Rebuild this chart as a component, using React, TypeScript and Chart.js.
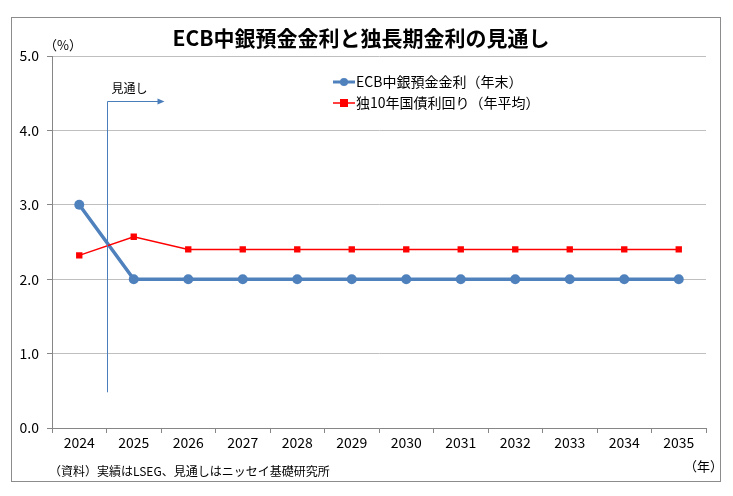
import React, { useEffect, useRef } from "react";
import { Chart, registerables } from "chart.js";

Chart.register(...registerables);

const years = ["2024", "2025", "2026", "2027", "2028", "2029", "2030", "2031", "2032", "2033", "2034", "2035"];
const ecbDeposit = [3.0, 2.0, 2.0, 2.0, 2.0, 2.0, 2.0, 2.0, 2.0, 2.0, 2.0, 2.0];
const bund10y = [2.32, 2.57, 2.4, 2.4, 2.4, 2.4, 2.4, 2.4, 2.4, 2.4, 2.4, 2.4];
const yTicks = [0, 1, 2, 3, 4, 5];

const titleText = "ECB中銀預金金利と独長期金利の見通し";
const ecbLabel = "ECB中銀預金金利（年末）";
const bundLabel = "独10年国債利回り（年平均）";
const sourceText = "（資料）実績はLSEG、見通しはニッセイ基礎研究所";
const unitY = "（%）";
const unitX = "（年）";
const forecastLabel = "見通し";

const FONT = "'Noto Sans CJK JP', 'Noto Sans', sans-serif";
const BLUE = "#4f81bd";
const RED = "#ff0000";

const overlay = {
  id: "overlay",
  afterDraw(chart: any) {
    const ctx = chart.ctx;
    const x = chart.scales.x;
    const y = chart.scales.y;
    ctx.save();
    // frame
    ctx.strokeStyle = "#8c8c8c";
    ctx.lineWidth = 1;
    ctx.strokeRect(11.5, 17.5, 709, 464);
    // title
    ctx.fillStyle = "#000";
    ctx.font = `bold 21px ${FONT}`;
    ctx.textAlign = "center";
    ctx.textBaseline = "middle";
    ctx.fillText(titleText, 361, 38);
    // units
    ctx.font = `13px ${FONT}`;
    ctx.textAlign = "left";
    ctx.fillText(unitY, 44, 45);
    ctx.fillText(unitX, 684, 466);
    ctx.font = `12px ${FONT}`;
    ctx.fillText(sourceText, 49, 471);
    // legend
    const lx1 = 333, lx2 = 355;
    ctx.strokeStyle = BLUE;
    ctx.lineWidth = 3;
    ctx.beginPath();
    ctx.moveTo(lx1, 82);
    ctx.lineTo(lx2, 82);
    ctx.stroke();
    ctx.fillStyle = BLUE;
    ctx.beginPath();
    ctx.arc((lx1 + lx2) / 2, 82, 4, 0, Math.PI * 2);
    ctx.fill();
    ctx.strokeStyle = RED;
    ctx.lineWidth = 1.5;
    ctx.beginPath();
    ctx.moveTo(lx1, 103);
    ctx.lineTo(lx2, 103);
    ctx.stroke();
    ctx.fillStyle = RED;
    ctx.fillRect((lx1 + lx2) / 2 - 4, 99, 8, 8);
    ctx.fillStyle = "#000";
    ctx.font = `14px ${FONT}`;
    ctx.fillText(ecbLabel, 356, 82);
    ctx.fillText(bundLabel, 356, 103);
    // forecast annotation
    const ax = Math.round((x.getPixelForValue(0) + x.getPixelForValue(1)) / 2) + 0.5;
    const ayTop = Math.round(y.getPixelForValue(4.4)) + 0.5;
    const ayBot = y.getPixelForValue(0.48);
    const axEnd = ax + 57;
    ctx.strokeStyle = "#4a7ebb";
    ctx.lineWidth = 1;
    ctx.beginPath();
    ctx.moveTo(ax, ayBot);
    ctx.lineTo(ax, ayTop);
    ctx.lineTo(axEnd - 6, ayTop);
    ctx.stroke();
    ctx.fillStyle = "#4a7ebb";
    ctx.beginPath();
    ctx.moveTo(axEnd, ayTop);
    ctx.lineTo(axEnd - 7, ayTop - 3);
    ctx.lineTo(axEnd - 7, ayTop + 3);
    ctx.closePath();
    ctx.fill();
    ctx.fillStyle = "#000";
    ctx.font = `12px ${FONT}`;
    ctx.textAlign = "left";
    ctx.fillText(forecastLabel, ax + 4, ayTop - 13);
    ctx.restore();
  },
};

export default function App() {
  const ref = useRef<HTMLCanvasElement>(null);
  useEffect(() => {
    document.body.style.margin = "0";
    const chart = new Chart(ref.current!, {
      type: "line",
      data: {
        labels: years,
        datasets: [
          {
            label: bundLabel,
            data: bund10y,
            borderColor: RED,
            backgroundColor: RED,
            borderWidth: 1.5,
            pointStyle: "rect",
            pointRadius: 4.5,
            pointBorderWidth: 0,
            tension: 0,
          },
          {
            label: ecbLabel,
            data: ecbDeposit,
            borderColor: BLUE,
            backgroundColor: BLUE,
            borderWidth: 3.5,
            pointStyle: "circle",
            pointRadius: 5,
            pointBorderWidth: 0,
            tension: 0,
          },
        ],
      },
      options: {
        animation: false,
        responsive: false,
        devicePixelRatio: 1,
        layout: { padding: { left: 0, top: 56, right: 27, bottom: 0 } },
        plugins: {
          legend: { display: false },
          title: { display: false },
          tooltip: { enabled: false },
        },
        scales: {
          x: {
            offset: true,
            grid: {
              offset: true,
              drawOnChartArea: false,
              drawTicks: true,
              tickLength: 5,
              color: "#868686",
            },
            border: { color: "#868686" },
            ticks: {
              color: "#000",
              font: { family: FONT, size: 14 },
              padding: 1,
              maxRotation: 0,
              autoSkip: false,
            },
            afterFit(scale: any) {
              scale.height = 68;
            },
          },
          y: {
            min: 0,
            max: 5,
            afterBuildTicks(scale: any) {
              scale.ticks = yTicks.map((v) => ({ value: v }));
            },
            grid: {
              color: "#bfbfbf",
              tickLength: 5,
              tickColor: "#868686",
            },
            border: { color: "#868686" },
            ticks: {
              color: "#000",
              font: { family: FONT, size: 14 },
              padding: 8,
              callback: (v: any) => Number(v).toFixed(1),
            },
            afterFit(scale: any) {
              scale.width = 52;
            },
          },
        },
      },
      plugins: [overlay],
    });
    return () => chart.destroy();
  }, []);
  return <canvas ref={ref} width={733} height={496} style={{ display: "block" }} />;
}
